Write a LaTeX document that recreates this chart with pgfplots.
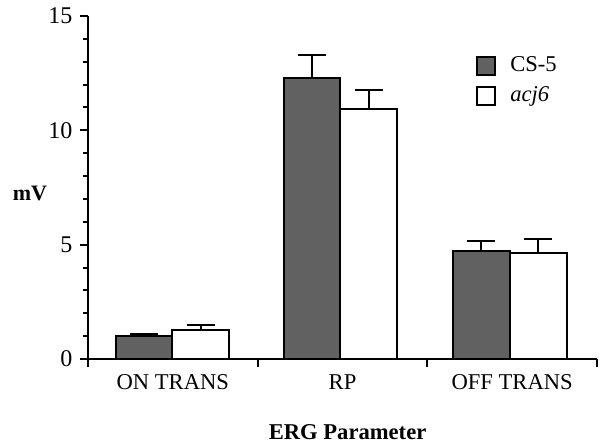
\documentclass[border=0pt]{standalone}
\usepackage{fontspec}
\setmainfont{Liberation Serif}
\usepackage{pgfplots}
\usepackage{pgfplotstable}
\pgfplotsset{compat=1.18}
\pgfplotstableread{
x y e
0.330 1.02 0.06
1.320 12.27 1.02
2.318 4.72 0.44
}\csfive
\pgfplotstableread{
x y e
0.665 1.27 0.20
1.655 10.93 0.82
2.653 4.65 0.58
}\acjsix
\begin{document}
\fontsize{11}{13}\selectfont
\begin{tikzpicture}
\begin{axis}[
  scale only axis, width=254.5pt, height=171.5pt,
  xmin=0, xmax=3, ymin=0, ymax=15,
  axis lines=left, axis line style={-, line width=1pt},
  tick align=outside,
  tick style={line width=1pt, black},
  major tick length=4pt, minor tick length=2.5pt,
  xtick={0,1,2,3}, xticklabels={},
  extra x ticks={0.5,1.5,2.5},
  extra x tick labels={ON TRANS,RP,OFF TRANS},
  extra x tick style={major tick length=0pt, tick label style={yshift=-4pt, font=\fontsize{11.3}{13}\selectfont}},
  ytick={0,5,10,15}, minor y tick num=4,
  /pgf/number format/assume math mode=true,
  yticklabel style={font=\fontsize{12}{14}\selectfont},
  ylabel={\textbf{mV}},
  ylabel style={at={(axis description cs:-0.114,0.484)}, rotate=-90, anchor=center},
  xlabel={\textbf{ERG Parameter}},
  xlabel style={at={(axis description cs:0.51,0)}, yshift=-36.5pt, anchor=center, font=\fontsize{11.3}{13}\selectfont},
  legend style={at={(axis description cs:0.762,0.895)}, anchor=north west, draw=none, fill=none,
    row sep=2pt, font=\fontsize{11.3}{13}\selectfont, inner sep=0pt},
  legend cell align=left,
  legend image code/.code={\draw[#1, line width=1pt] (0pt,-4.5pt) rectangle (9pt,4.5pt); \path[draw=none, fill=none] (0pt,0pt) -- (14.5pt,0pt);},
]
\addplot[ybar, bar width=0.335, bar shift=0pt, fill=black!62, draw=black, line width=1pt,
  error bars/.cd, y dir=plus, y explicit, error mark=|,
  error bar style={line width=1pt, black},
  error mark options={line width=1pt, mark size=7pt, black}]
  table[x=x, y=y, y error=e]{\csfive};
\addlegendentry{CS-5}
\addplot[ybar, bar width=0.335, bar shift=0pt, fill=white, draw=black, line width=1pt,
  error bars/.cd, y dir=plus, y explicit, error mark=|,
  error bar style={line width=1pt, black},
  error mark options={line width=1pt, mark size=7pt, black}]
  table[x=x, y=y, y error=e]{\acjsix};
\addlegendentry{\textit{acj6}}
\end{axis}
\pgfresetboundingbox
\path (-44pt,-43pt) rectangle (256pt,179.5pt);
\end{tikzpicture}
\end{document}
